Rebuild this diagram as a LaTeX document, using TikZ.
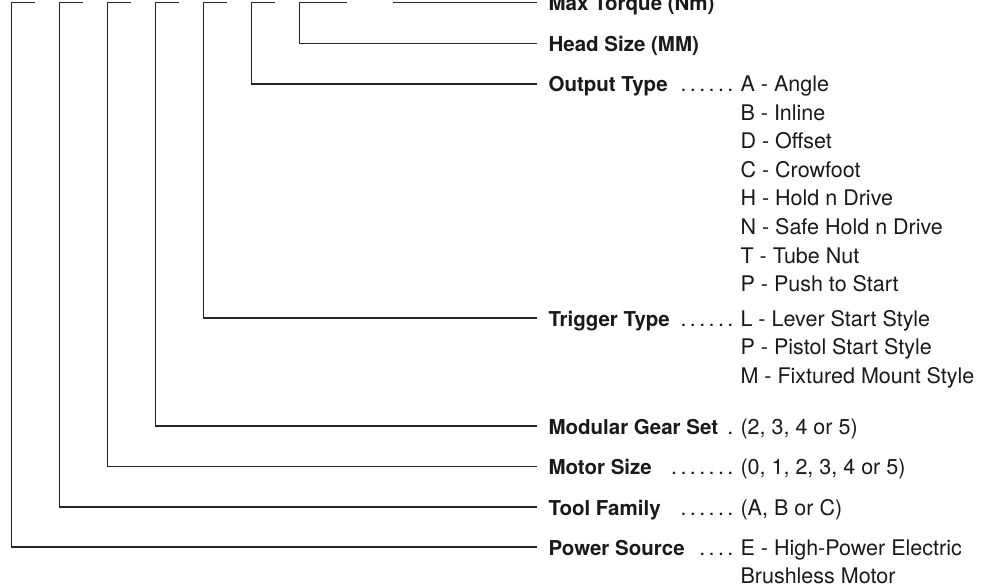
\documentclass[tikz,border=0pt]{standalone}
\usepackage{fontspec}
\setmainfont{TeX Gyre Heros}
\usetikzlibrary{calc}
\newcommand\leaderdots[1]{\foreach\d in {1,...,#1}{\hspace{3.4pt}.}}

\begin{document}
\begin{tikzpicture}[x=1pt,y=-1pt,line width=1.1pt,
  every node/.style={font=\fontsize{21.5}{28.5}\selectfont,inner sep=0pt,text=black!90},
  lbl/.style={anchor=base west,font=\fontsize{20.5}{28.5}\selectfont\bfseries},
  val/.style={anchor=base west},
  ldr/.style={anchor=base east}]
  \useasboundingbox (0,0) rectangle (1004,588);
  \node[lbl] (maxtq) at (548,10.7) {Max Torque (Nm)};
  \node[lbl] (headsz) at (548,51.3) {Head Size (MM)};
  \node[lbl] (outtype) at (548,92) {Output Type};
  \node[lbl] (trigtype) at (548,326) {Trigger Type};
  \node[lbl] (gearset) at (548,434) {Modular Gear Set};
  \node[lbl] (motorsz) at (548,474.5) {Motor Size};
  \node[lbl] (family) at (548,515) {Tool Family};
  \node[lbl] (power) at (548,555) {Power Source};

  \node[ldr] (outdots) at (734,92) {\leaderdots{6}};
  \node[ldr] (trigdots) at (734,326) {\leaderdots{6}};
  \node[ldr] (geardots) at (734,434) {\leaderdots{1}};
  \node[ldr] (motordots) at (734,474.5) {\leaderdots{7}};
  \node[ldr] (familydots) at (734,515) {\leaderdots{6}};
  \node[ldr] (powerdots) at (734,555) {\leaderdots{4}};

  \foreach \t [count=\k] in {A - Angle, B - Inline, D - Offset, C - Crowfoot,
      H - Hold n Drive, N - Safe Hold n Drive, T - Tube Nut, P - Push to Start}
    \node[val] (out\k) at (740,63.5+28.5*\k) {\t};
  \foreach \t [count=\k] in {L - Lever Start Style, P - Pistol Start Style,
      M - Fixtured Mount Style}
    \node[val] (trig\k) at (740,297.5+28.5*\k) {\t};
  \node[val] (gear1) at (740,434) {(2, 3, 4 or 5)};
  \node[val] (motor1) at (740,474.5) {(0, 1, 2, 3, 4 or 5)};
  \node[val] (family1) at (740,515) {(A, B or C)};
  \node[val] (power1) at (740,555) {E - High-Power Electric};
  \node[val] (power2) at (740,583.5) {Brushless Motor};

  \begin{scope}[draw=black!85]
    \foreach \n/\x in {power/11.7,family/59.7,motorsz/107.7,gearset/155.7,
        trigtype/203.7,outtype/251.7}
      \draw ($(\n.base west)+(-11,-8)$) -| (\x,2.7) -- ++(23.5,0);
    \draw ($(headsz.base west)+(-11,-8)$) -| (299.7,2.7) -- ++(47.6,0);
    \draw ($(maxtq.base west)+(-11,-8)$) -- (393.3,2.7);
  \end{scope}
\end{tikzpicture}
\end{document}
